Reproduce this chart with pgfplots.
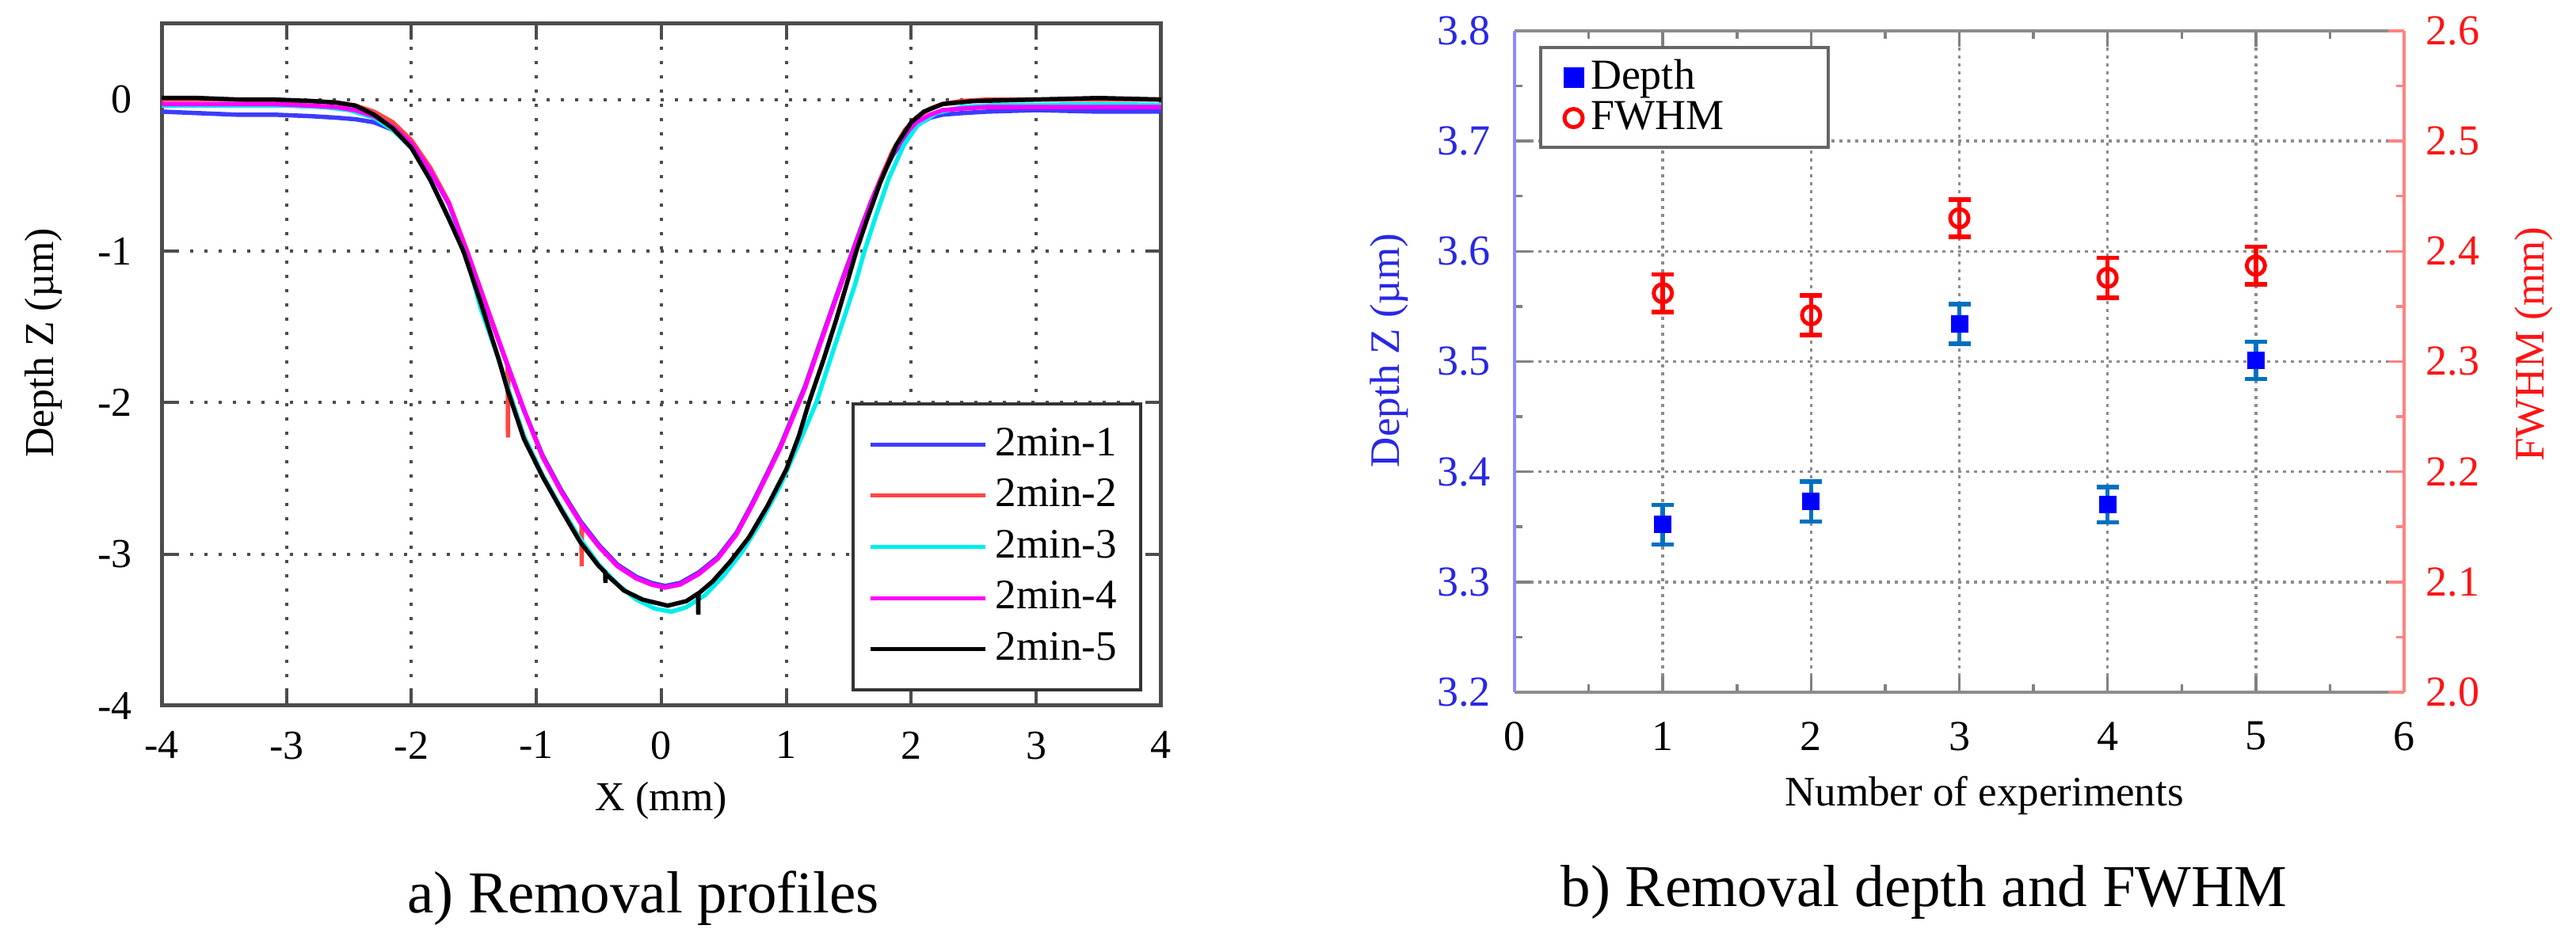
\documentclass[border=0pt]{standalone}
\usepackage{pgfplots}
\pgfplotsset{compat=1.18}
\usepackage{fontspec}
\setmainfont{Liberation Serif}
\definecolor{c1}{RGB}{60,60,255}
\definecolor{c2}{RGB}{255,70,70}
\definecolor{c3}{RGB}{0,238,238}
\definecolor{c4}{RGB}{255,0,255}
\definecolor{c5}{RGB}{0,0,0}
\definecolor{depthbar}{RGB}{0,112,192}
\definecolor{leftspine}{RGB}{140,140,255}
\definecolor{rightspine}{RGB}{255,130,130}
\definecolor{ytickblue}{RGB}{40,40,230}
\definecolor{ytickred}{RGB}{255,20,20}

\pgfplotstableread{
x y
-4.00 -0.08
-3.70 -0.09
-3.40 -0.10
-3.10 -0.10
-2.80 -0.11
-2.60 -0.12
-2.45 -0.13
-2.30 -0.15
-2.15 -0.20
-2.00 -0.30
-1.85 -0.47
-1.70 -0.69
-1.55 -1.02
-1.40 -1.37
-1.25 -1.71
-1.10 -2.05
-0.95 -2.35
-0.80 -2.58
-0.65 -2.78
-0.50 -2.94
-0.35 -3.07
-0.20 -3.15
-0.08 -3.19
0.03 -3.21
0.15 -3.19
0.30 -3.12
0.45 -3.02
0.60 -2.86
0.73 -2.66
0.85 -2.46
0.95 -2.29
1.05 -2.09
1.15 -1.89
1.25 -1.65
1.36 -1.39
1.45 -1.18
1.53 -1.00
1.60 -0.84
1.68 -0.67
1.77 -0.50
1.85 -0.37
1.95 -0.25
2.04 -0.17
2.15 -0.12
2.25 -0.10
2.40 -0.09
2.60 -0.08
3.00 -0.07
3.50 -0.08
4.00 -0.08
}\profA

\pgfplotstableread{
x y
-4.00 0.00
-3.70 0.00
-3.40 0.00
-3.10 -0.01
-2.80 -0.01
-2.60 -0.02
-2.45 -0.04
-2.30 -0.08
-2.15 -0.15
-2.00 -0.27
-1.85 -0.45
-1.70 -0.68
-1.55 -1.01
-1.40 -1.36
-1.25 -1.71
-1.23 -1.76
-1.228 -2.23
-1.226 -1.77
-1.10 -2.05
-0.95 -2.36
-0.80 -2.59
-0.65 -2.79
-0.64 -2.80
-0.638 -3.08
-0.636 -2.81
-0.50 -2.95
-0.35 -3.08
-0.20 -3.16
-0.08 -3.20
0.03 -3.22
0.15 -3.20
0.30 -3.13
0.45 -3.03
0.60 -2.87
0.73 -2.67
0.85 -2.47
0.95 -2.30
1.05 -2.10
1.15 -1.90
1.25 -1.66
1.36 -1.40
1.45 -1.19
1.53 -1.01
1.60 -0.85
1.68 -0.67
1.77 -0.49
1.85 -0.34
1.95 -0.20
2.04 -0.12
2.15 -0.06
2.25 -0.03
2.40 -0.01
2.60 0.00
3.00 0.00
3.50 0.00
4.00 0.00
}\profB

\pgfplotstableread{
x y
-4.00 -0.04
-3.50 -0.04
-3.00 -0.04
-2.70 -0.05
-2.50 -0.07
-2.30 -0.12
-2.15 -0.20
-2.00 -0.32
-1.85 -0.53
-1.70 -0.78
-1.57 -1.00
-1.45 -1.37
-1.30 -1.72
-1.21 -1.95
-1.10 -2.22
-0.95 -2.48
-0.80 -2.70
-0.65 -2.90
-0.50 -3.07
-0.35 -3.20
-0.20 -3.30
-0.05 -3.36
0.08 -3.38
0.20 -3.35
0.35 -3.27
0.50 -3.14
0.65 -2.98
0.80 -2.78
0.95 -2.55
1.10 -2.27
1.24 -2.00
1.35 -1.72
1.45 -1.47
1.55 -1.22
1.625 -1.00
1.72 -0.76
1.82 -0.52
1.94 -0.30
2.05 -0.17
2.20 -0.09
2.40 -0.05
2.70 -0.035
3.00 -0.035
3.50 -0.03
4.00 -0.035
}\profC

\pgfplotstableread{
x y
-4.00 -0.03
-3.70 -0.03
-3.40 -0.03
-3.10 -0.03
-2.80 -0.04
-2.60 -0.05
-2.45 -0.07
-2.30 -0.11
-2.15 -0.18
-2.00 -0.29
-1.85 -0.47
-1.70 -0.69
-1.55 -1.02
-1.40 -1.37
-1.25 -1.71
-1.10 -2.05
-0.95 -2.36
-0.80 -2.59
-0.65 -2.79
-0.50 -2.95
-0.35 -3.08
-0.20 -3.16
-0.08 -3.20
0.03 -3.22
0.15 -3.20
0.30 -3.13
0.45 -3.03
0.60 -2.87
0.73 -2.67
0.85 -2.47
0.95 -2.30
1.05 -2.10
1.15 -1.90
1.25 -1.66
1.36 -1.40
1.45 -1.19
1.53 -1.01
1.60 -0.85
1.68 -0.67
1.77 -0.50
1.85 -0.36
1.95 -0.23
2.04 -0.15
2.15 -0.10
2.25 -0.07
2.40 -0.06
2.60 -0.05
3.00 -0.05
3.50 -0.05
4.00 -0.05
}\profD

\pgfplotstableread{
x y
-4.00 0.01
-3.70 0.01
-3.40 0.00
-3.10 0.00
-2.80 -0.01
-2.60 -0.02
-2.45 -0.04
-2.30 -0.10
-2.15 -0.19
-2.00 -0.32
-1.85 -0.53
-1.70 -0.79
-1.585 -1.00
-1.45 -1.33
-1.30 -1.72
-1.23 -1.92
-1.10 -2.24
-0.95 -2.49
-0.80 -2.71
-0.65 -2.92
-0.50 -3.08
-0.45 -3.12
-0.448 -3.19
-0.446 -3.13
-0.30 -3.24
-0.15 -3.30
0.05 -3.34
0.20 -3.31
0.293 -3.26
0.295 -3.40
0.297 -3.26
0.41 -3.18
0.55 -3.05
0.70 -2.89
0.85 -2.68
1.00 -2.44
1.10 -2.22
1.18 -2.00
1.30 -1.71
1.40 -1.45
1.50 -1.17
1.56 -1.00
1.65 -0.78
1.75 -0.55
1.88 -0.30
2.00 -0.15
2.10 -0.08
2.25 -0.03
2.50 -0.01
3.00 0.00
3.50 0.01
4.00 0.00
}\profE

\pgfplotstableread{
x y e
1 3.352 0.018
2 3.373 0.018
3 3.534 0.018
4 3.370 0.016
5 3.501 0.017
}\depth

\pgfplotstableread{
x y e
1 2.362 0.017
2 2.342 0.018
3 2.430 0.017
4 2.376 0.018
5 2.387 0.017
}\fwhm

\begin{document}
\begin{tikzpicture}
\useasboundingbox (0,0) rectangle (650.4pt,-240.4pt);

% ---------- left panel ----------
\begin{axis}[
  at={(40.8pt,-6pt)}, anchor=north west,
  scale only axis, width=252.4pt, height=172.2pt,
  xmin=-4, xmax=4, ymin=-4, ymax=0.5,
  xtick={-4,...,4}, ytick={-4,...,0},
  tick align=inside, major tick length=4pt,
  grid=major,
  major grid style={dash pattern=on 0.8pt off 2.8pt, line width=0.8pt, black!70},
  axis line style={line width=1pt, black!70},
  tick style={line width=0.8pt, black!70},
  /pgf/number format/assume math mode=true,
  tick label style={font=\fontsize{10.4}{12}\selectfont},
  xticklabel style={yshift=-3pt},
  yticklabel style={xshift=-4pt},
  label style={font=\fontsize{10.4}{12}\selectfont},
  xlabel={X (mm)},
  ylabel={Depth Z (µm)},
  xlabel style={at={(axis description cs:0.5,-0.139)}, anchor=center},
  ylabel style={at={(axis description cs:-0.118,0.532)}, anchor=center, rotate=0},
  legend image code/.code={\draw[#1, line width=1pt] (0pt,0pt) -- (29pt,0pt);},
  legend style={at={(0.981,0.021)}, anchor=south east, draw=black!80, line width=0.8pt,
    font=\fontsize{10.6}{12}\selectfont, row sep=0.4pt, inner xsep=4pt, inner ysep=4pt},
  legend cell align=left,
]
\addplot[c1, line width=1.1pt] table {\profA};
\addlegendentry{2min-1}
\addplot[c2, line width=1.1pt] table {\profB};
\addlegendentry{2min-2}
\addplot[c3, line width=1.1pt] table {\profC};
\addlegendentry{2min-3}
\addplot[c4, line width=1.1pt] table {\profD};
\addlegendentry{2min-4}
\addplot[c5, line width=1.1pt] table {\profE};
\addlegendentry{2min-5}
\end{axis}

% ---------- right panel: depth ----------
\begin{axis}[
  at={(382.4pt,-7.8pt)}, anchor=north west,
  scale only axis, width=224.6pt, height=167pt,
  xmin=0, xmax=6, ymin=3.2, ymax=3.8,
  separate axis lines,
  axis x line*=box, axis y line*=left,
  xtick={0,...,6}, minor x tick num=1,
  ytick={3.2,3.3,...,3.8}, minor y tick num=1,
  tick align=inside, major tick length=4pt, minor tick length=2pt,
  grid=major,
  major grid style={dash pattern=on 0.7pt off 1.3pt, line width=0.7pt, black!45},
  x axis line style={black!45, line width=0.9pt},
  y axis line style={leftspine, line width=0.8pt},
  tick style={line width=0.7pt, black!50},
  /pgf/number format/assume math mode=true,
  yticklabel={\pgfmathprintnumber[fixed, fixed zerofill, precision=1]{\tick}},
  tick label style={font=\fontsize{10.8}{12}\selectfont},
  xticklabel style={yshift=-4pt},
  yticklabel style={xshift=-2.5pt, text=ytickblue},
  label style={font=\fontsize{10.6}{12}\selectfont},
  xlabel={Number of experiments},
  ylabel={Depth Z (µm)},
  xlabel style={at={(axis description cs:0.528,-0.156)}, anchor=center},
  ylabel style={at={(axis description cs:-0.141,0.517)}, anchor=center, text=ytickblue},
]
\addplot[only marks, mark=square*, mark size=2pt, blue,
  error bars/.cd, y dir=both, y explicit,
  error bar style={depthbar, line width=1.1pt},
  error mark options={depthbar, line width=1.1pt, mark size=2.8pt, rotate=90}]
  table[x=x, y=y, y error=e] {\depth};
\end{axis}

% ---------- right panel: FWHM ----------
\begin{axis}[
  at={(382.4pt,-7.8pt)}, anchor=north west,
  scale only axis, width=224.6pt, height=167pt,
  xmin=0, xmax=6, ymin=2.0, ymax=2.6,
  axis x line=none, axis y line*=right,
  ytick={2.0,2.1,...,2.6}, minor y tick num=1,
  tick align=inside, major tick length=4pt, minor tick length=2pt,
  y axis line style={rightspine, line width=0.8pt},
  tick style={line width=0.7pt, rightspine},
  /pgf/number format/assume math mode=true,
  yticklabel={\pgfmathprintnumber[fixed, fixed zerofill, precision=1]{\tick}},
  tick label style={font=\fontsize{10.8}{12}\selectfont},
  yticklabel style={xshift=2pt, text=ytickred},
  label style={font=\fontsize{10.6}{12}\selectfont},
  ylabel={FWHM (mm)},
  ylabel style={at={(axis description cs:1.146,0.526)}, anchor=center, rotate=0, text=ytickred},
  legend style={at={(0.0276,0.977)}, anchor=north west, draw=black!60, line width=0.8pt,
    font=\fontsize{10.8}{12}\selectfont, inner xsep=6pt, inner ysep=1pt, row sep=-2.5pt},
  legend cell align=left,
]
\addlegendimage{only marks, mark=square*, mark size=2.2pt, blue}
\addlegendentry{\makebox[52pt][l]{Depth}}
\addplot[only marks, mark=o, mark size=2.3pt, red, line width=1pt,
  error bars/.cd, y dir=both, y explicit,
  error bar style={red, line width=1.1pt},
  error mark options={red, line width=1.1pt, mark size=2.8pt, rotate=90}]
  table[x=x, y=y, y error=e] {\fwhm};
\addlegendentry{FWHM}
\end{axis}

\node[font=\fontsize{15}{18}\selectfont] at (162.4pt,-226.8pt) {a) Removal profiles};
\node[font=\fontsize{15}{18}\selectfont] at (485.8pt,-225.2pt) {b) Removal depth and FWHM};
\end{tikzpicture}
\end{document}
